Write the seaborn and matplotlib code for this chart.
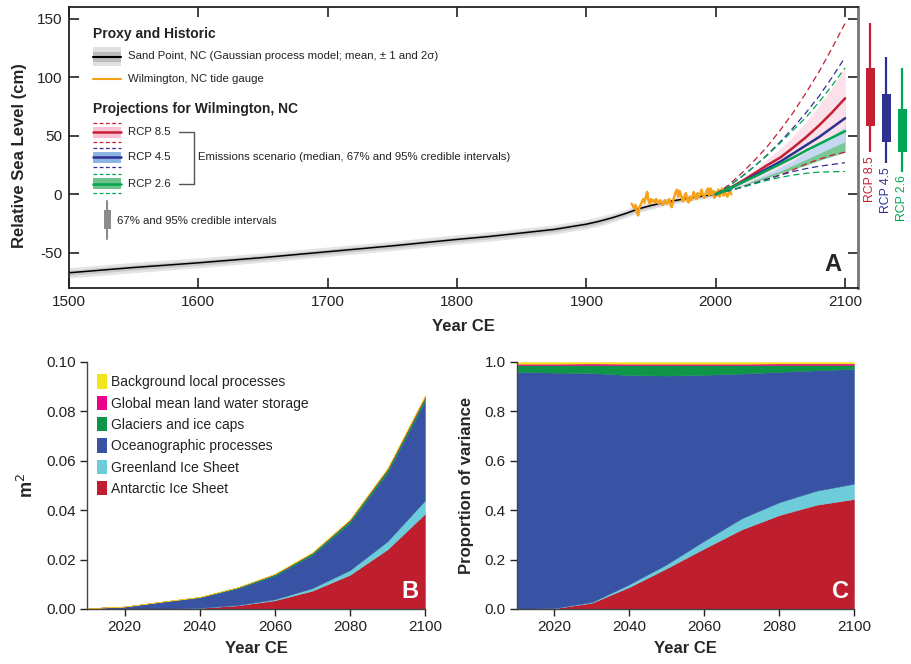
import matplotlib
matplotlib.use("Agg")
import matplotlib.pyplot as plt
import seaborn as sns
from matplotlib.patches import Rectangle
from matplotlib.lines import Line2D
from matplotlib.ticker import FormatStrFormatter

# ---------------- Panel A: relative sea level ----------------
sand_years = [1500, 1550, 1600, 1650, 1700, 1750, 1800, 1825, 1850, 1875, 1900, 1910, 1920,
              1930, 1940, 1950, 1960, 1970, 1980, 1990, 2000]
sand_mean = [-67, -62.5, -58.5, -54, -49, -44, -38.5, -36, -33, -30, -25.5, -23, -20,
             -16.5, -12.5, -9.5, -7, -5, -3, -1.5, 0]
sand_sigma = [2.2, 2.2, 2.1, 2.0, 2.0, 2.0, 2.0, 2.0, 2.0, 2.0, 2.0, 2.0, 1.9,
              1.8, 1.7, 1.6, 1.5, 1.4, 1.3, 1.2, 1.2]

gauge_years = list(range(1935, 2013))
gauge_rsl = [-8, -10, -12, -9, -15, -18, -11, -9, -6, -4, -7, -2, 2, -5, -8, -4, -6, -5, -7, -4,
             -6, -8, -5, -7, -9, -6, -5, -8, -7, -4, -9, -11, -6, -2, 2, 4, -2, 3, 0, -4,
             -6, -1, 1, -5, -7, -2, -5, -3, 2, -2, -4, 1, -2, 0, 4, 0, -3, 0, 3, 5,
             -1, 5, 0, 3, -3, 2, -1, 4, -2, 3, 5, -1, 2, 0, -2, 1, 3, 0]

proj_years = [2000, 2010, 2020, 2030, 2040, 2050, 2060, 2070, 2080, 2090, 2100]
rcp85_med = [0, 5, 11, 18, 25, 31.5, 40, 49, 59, 70, 82]
rcp85_lo67 = [0, 4, 8, 13, 18, 23, 29, 36, 43, 50, 58]
rcp85_hi67 = [0, 6, 13, 21, 30, 39, 50, 62, 76, 91, 108]
rcp85_lo95 = [0, 3, 6, 9.5, 13, 16.5, 21, 26, 30, 33.5, 36]
rcp85_hi95 = [0, 8, 18, 29, 41, 55, 70, 87, 105, 125, 146]

rcp45_med = [0, 4.5, 10, 16, 22, 28, 35, 42, 49, 57, 65]
rcp45_lo67 = [0, 3.5, 7.5, 12, 16, 20, 25, 30, 35, 40, 45]
rcp45_hi67 = [0, 5.5, 12, 19, 26, 33, 42, 51, 62, 73, 86]
rcp45_lo95 = [0, 3, 6, 9.5, 13, 16.5, 19.5, 22, 24, 25.5, 27]
rcp45_hi95 = [0, 7, 15, 24, 34, 45, 57, 70, 84, 100, 117]

rcp26_med = [0, 4.5, 10, 15, 20.5, 26, 31.5, 37.5, 43, 48.5, 54]
rcp26_lo67 = [0, 3.5, 7, 10.5, 14, 18, 21.5, 25, 29, 32.5, 36]
rcp26_hi67 = [0, 5, 11, 17, 24, 30, 37, 45, 54, 63, 73]
rcp26_lo95 = [0, 3, 6, 9, 12, 14.5, 16.5, 18, 19, 19.3, 19.5]
rcp26_hi95 = [0, 7, 15, 24, 33.5, 44, 55, 66, 79, 93, 108]

scenario_labels = ["RCP 8.5", "RCP 4.5", "RCP 2.6"]

# ---------------- Panels B & C: variance decomposition ----------------
var_years = [2010, 2020, 2030, 2040, 2050, 2060, 2070, 2080, 2090, 2100]
component_names = ["Antarctic Ice Sheet", "Greenland Ice Sheet", "Oceanographic processes",
                   "Glaciers and ice caps", "Global mean land water storage",
                   "Background local processes"]

var_antarctic = [0.0, 0.0, 0.00008, 0.00044, 0.00145, 0.00350, 0.00741, 0.01383, 0.02414, 0.03858]
var_greenland = [0.0, 0.000001, 0.000009, 0.000054, 0.000141, 0.000443, 0.001035, 0.001893, 0.00326, 0.005375]
var_ocean = [0.000288, 0.000953, 0.002781, 0.00415, 0.006723, 0.00961, 0.013478, 0.019219, 0.027856, 0.040316]
var_glaciers = [0.000008, 0.00003, 0.000099, 0.000196, 0.00037, 0.000558, 0.000782, 0.001019, 0.001258, 0.001387]
var_landwater = [0.000002, 0.000006, 0.000018, 0.000029, 0.000053, 0.000086, 0.000138, 0.000218, 0.000343, 0.00052]
var_background = [0.000002, 0.000008, 0.000021, 0.000034, 0.000062, 0.0001, 0.000161, 0.000218, 0.000343, 0.00052]

prop_antarctic = [0.000, 0.003, 0.025, 0.089, 0.165, 0.245, 0.322, 0.380, 0.422, 0.445]
prop_greenland = [0.000, 0.001, 0.003, 0.011, 0.016, 0.031, 0.045, 0.052, 0.057, 0.062]
prop_ocean = [0.960, 0.953, 0.927, 0.847, 0.764, 0.672, 0.586, 0.528, 0.487, 0.465]
prop_glaciers = [0.027, 0.030, 0.033, 0.040, 0.042, 0.039, 0.034, 0.028, 0.022, 0.016]
prop_landwater = [0.006, 0.006, 0.006, 0.006, 0.006, 0.006, 0.006, 0.006, 0.006, 0.006]
prop_background = [0.007, 0.007, 0.006, 0.007, 0.007, 0.007, 0.007, 0.006, 0.006, 0.006]

# ---------------- style ----------------
sns.set_theme(style="ticks")
plt.rcParams["font.family"] = ["Liberation Sans", "DejaVu Sans"]
plt.rcParams["axes.unicode_minus"] = False
SMALL = 8.2

RED, BLUE, GREEN = "#C41F33", "#2E3192", "#00A651"
PINK_BAND, BLUE_BAND, GREEN_BAND = "#FCE1EB", "#C5D8F2", "#7CC895"
ORANGE = "#F7A21B"
comp_colors = ["#BE1E2D", "#6CCCDA", "#3953A4", "#0F9548", "#EC008C", "#F2E51B"]

W, H = 911, 664
fig = plt.figure(figsize=(W / 100, H / 100), dpi=100)


def frame(l, t, r, b):
    return [l / W, 1 - b / H, (r - l) / W, (b - t) / H]


axA = fig.add_axes(frame(69, 7, 858, 288))
axR = fig.add_axes(frame(858, 7, 911, 288))
axB = fig.add_axes(frame(87, 362, 425, 609))
axC = fig.add_axes(frame(517, 362, 854, 609))

# ---- Panel A ----
lo2 = [m - 2 * s for m, s in zip(sand_mean, sand_sigma)]
hi2 = [m + 2 * s for m, s in zip(sand_mean, sand_sigma)]
lo1 = [m - s for m, s in zip(sand_mean, sand_sigma)]
hi1 = [m + s for m, s in zip(sand_mean, sand_sigma)]
axA.fill_between(sand_years, lo2, hi2, color="#E4E4E4", lw=0)
axA.fill_between(sand_years, lo1, hi1, color="#C8C8C8", lw=0)
sns.lineplot(x=sand_years, y=sand_mean, ax=axA, color="black", linewidth=1.1)

sns.lineplot(x=gauge_years, y=gauge_rsl, ax=axA, color=ORANGE, linewidth=1.8)

axA.fill_between(proj_years, rcp26_lo67, rcp26_hi67, color=GREEN_BAND, lw=0)
axA.fill_between(proj_years, rcp45_lo67, rcp45_hi67, color=BLUE_BAND, lw=0)
axA.fill_between(proj_years, rcp85_lo67, rcp85_hi67, color=PINK_BAND, lw=0)

for lo, hi, c in [(rcp85_lo95, rcp85_hi95, RED), (rcp45_lo95, rcp45_hi95, BLUE),
                  (rcp26_lo95, rcp26_hi95, GREEN)]:
    sns.lineplot(x=proj_years, y=lo, ax=axA, color=c, linewidth=0.9, linestyle=(0, (5, 3)))
    sns.lineplot(x=proj_years, y=hi, ax=axA, color=c, linewidth=0.9, linestyle=(0, (5, 3)))
for med, c in [(rcp85_med, RED), (rcp45_med, BLUE), (rcp26_med, GREEN)]:
    sns.lineplot(x=proj_years, y=med, ax=axA, color=c, linewidth=1.8)

axA.set_xlim(1500, 2110)
axA.set_ylim(-80, 160)
axA.set_xticks([1500, 1600, 1700, 1800, 1900, 2000, 2100])
axA.set_yticks([-50, 0, 50, 100, 150])
axA.tick_params(direction="in", top=True, right=True, length=7, width=1.2,
                labelsize=11, colors="#222222", pad=5)
for side in ["left", "bottom", "top"]:
    axA.spines[side].set_linewidth(1.3)
    axA.spines[side].set_color("#222222")
axA.spines["right"].set_linewidth(2.0)
axA.spines["right"].set_color("#777777")
axA.set_xlabel("Year CE", fontsize=12, fontweight="bold", labelpad=7)
axA.set_ylabel("Relative Sea Level (cm)", fontsize=12, fontweight="bold", labelpad=9)
axA.yaxis.set_label_coords(-0.053, 0.47)
axA.text(0.968, 0.082, "A", transform=axA.transAxes, fontsize=17, fontweight="bold",
         ha="center", va="center")


# legend of panel A, laid out in pixel units of the figure
def pa(px, py):
    return ((px - 69) / 789, (288 - py) / 281)


def lrect(x0, y0, x1, y1, color):
    (ax0, ay1), (ax1, ay0) = pa(x0, y0), pa(x1, y1)
    axA.add_patch(Rectangle((ax0, ay0), ax1 - ax0, ay1 - ay0, transform=axA.transAxes,
                            color=color, lw=0, clip_on=False))


def lline(xs, ys, color, lw, ls="-"):
    pts = [pa(x, y) for x, y in zip(xs, ys)]
    axA.add_line(Line2D([p[0] for p in pts], [p[1] for p in pts], transform=axA.transAxes,
                        color=color, lw=lw, linestyle=ls, clip_on=False))


def ltext(px, py, s, bold=False):
    x, y = pa(px, py)
    axA.text(x, y, s, transform=axA.transAxes, va="center", ha="left",
             fontsize=10 if bold else SMALL, fontweight="bold" if bold else "normal",
             color="#222222")


GX0, GX1 = 92.7, 121
ltext(GX0, 34.3, "Proxy and Historic", bold=True)
lrect(GX0, 47.3, GX1, 65.7, "#E0E0E0")
lrect(GX0, 51.7, GX1, 61.7, "#BDBDBD")
lline([GX0, GX1], [56.7, 56.7], "black", 1.5)
ltext(127.7, 56.2, "Sand Point, NC (Gaussian process model; mean, \u00b1 1 and 2\u03c3)")
lline([GX0, GX1], [78.7, 78.7], ORANGE, 1.5)
ltext(127.7, 79.3, "Wilmington, NC tide gauge")
ltext(GX0, 109.3, "Projections for Wilmington, NC", bold=True)

legend_rows = [(132.3, RED, "#F9C3D4"), (157.3, BLUE, "#8EB4E6"), (183.7, GREEN, "#6DC28D")]
for (yc, c, band), lab in zip(legend_rows, scenario_labels):
    lline([GX0, GX1], [yc - 9.5, yc - 9.5], c, 0.9, (0, (3, 2)))
    lline([GX0, GX1], [yc + 9.5, yc + 9.5], c, 0.9, (0, (3, 2)))
    lrect(GX0, yc - 5.5, GX1, yc + 5.5, band)
    lline([GX0, GX1], [yc, yc], c, 1.8)
    ltext(127.7, yc, lab)
lline([179, 194, 194, 179], [132.3, 132.3, 183.7, 183.7], "#555555", 1.0)
ltext(197.7, 157.3, "Emissions scenario (median, 67% and 95% credible intervals)")
lline([107.3, 107.3], [201, 239.3], "#8C8C8C", 1.5)
lrect(104.3, 210, 110.7, 228.7, "#8C8C8C")
ltext(116.7, 220.7, "67% and 95% credible intervals")

# 2100 credible intervals beside panel A
ranges = [(rcp85_lo95, rcp85_lo67, rcp85_hi67, rcp85_hi95, RED),
          (rcp45_lo95, rcp45_lo67, rcp45_hi67, rcp45_hi95, BLUE),
          (rcp26_lo95, rcp26_lo67, rcp26_hi67, rcp26_hi95, GREEN)]
for i, ((lo95, lo67, hi67, hi95, c), lab) in enumerate(zip(ranges, scenario_labels)):
    axR.vlines(i, lo95[-1], hi95[-1], color=c, lw=1.6)
    axR.bar(i, hi67[-1] - lo67[-1], bottom=lo67[-1], width=0.57, color=c, lw=0)
    axR.text(i, lo95[-1] - 3.5, lab, rotation=90, ha="center", va="top", color=c,
             fontsize=SMALL + 0.6)
axR.set_xlim(-0.786, 2.547)
axR.set_ylim(-80, 160)
axR.axis("off")

# ---- Panels B and C ----
var_layers = [var_antarctic, var_greenland, var_ocean, var_glaciers, var_landwater, var_background]
prop_layers = [prop_antarctic, prop_greenland, prop_ocean, prop_glaciers, prop_landwater,
               prop_background]
axB.stackplot(var_years, *var_layers, colors=comp_colors, linewidth=0.3, edgecolor="face")
axC.stackplot(var_years, *prop_layers, colors=comp_colors, linewidth=0.3, edgecolor="face")

for ax in (axB, axC):
    ax.set_xlim(2010, 2100)
    ax.set_xticks([2020, 2040, 2060, 2080, 2100])
    sns.despine(ax=ax)
    for side in ["left", "bottom"]:
        ax.spines[side].set_linewidth(1.0)
        ax.spines[side].set_color("#444444")
    ax.tick_params(direction="out", length=5, width=1.0, colors="#222222", labelsize=11, pad=3)
    ax.set_xlabel("Year CE", fontsize=12, fontweight="bold", labelpad=5)

axB.set_ylim(0, 0.10)
axB.set_yticks([0, 0.02, 0.04, 0.06, 0.08, 0.10])
axB.yaxis.set_major_formatter(FormatStrFormatter("%.2f"))
axB.set_ylabel("m$^2$", fontsize=13, fontweight="bold", labelpad=7)
axC.set_ylim(0, 1.0)
axC.set_yticks([0, 0.2, 0.4, 0.6, 0.8, 1.0])
axC.yaxis.set_major_formatter(FormatStrFormatter("%.1f"))
axC.set_ylabel("Proportion of variance", fontsize=12, fontweight="bold", labelpad=8)

axB.text(0.954, 0.069, "B", transform=axB.transAxes, fontsize=17, fontweight="bold",
         color="white", ha="center", va="center")
axC.text(0.960, 0.069, "C", transform=axC.transAxes, fontsize=17, fontweight="bold",
         color="white", ha="center", va="center")

handles = [Rectangle((0, 0), 1, 1, color=c, lw=0) for c in comp_colors][::-1]
leg = axB.legend(handles, component_names[::-1], loc="upper left",
                 bbox_to_anchor=(0.012, 0.972), frameon=False, handlelength=0.72,
                 handleheight=1.2, handletextpad=0.34, labelspacing=0.47, borderaxespad=0,
                 prop={"size": 10})
for t in leg.get_texts():
    t.set_color("#222222")

fig.savefig("out.png", dpi=100)
